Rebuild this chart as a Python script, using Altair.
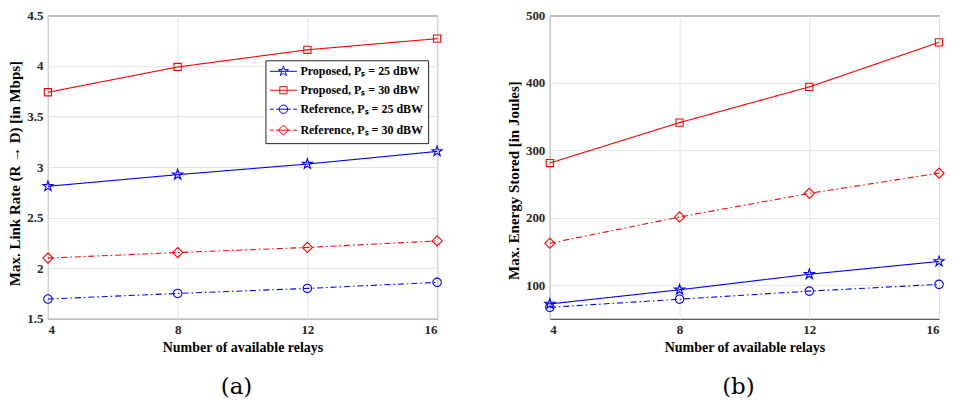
import json
import math
import altair as alt
import pandas as pd

# ---------------- data ----------------
relays = [4, 8, 12, 16]
series = [
    "Proposed, Pₛ = 25 dBW",
    "Proposed, Pₛ = 30 dBW",
    "Reference, Pₛ = 25 dBW",
    "Reference, Pₛ = 30 dBW",
]
colors = ["#0000ff", "#ff0000", "#0000ff", "#ff0000"]

rate_prop25 = [2.81, 2.925, 3.03, 3.155]
rate_prop30 = [3.74, 3.99, 4.16, 4.27]
rate_ref25 = [1.695, 1.75, 1.80, 1.86]
rate_ref30 = [2.10, 2.155, 2.205, 2.27]

energy_prop25 = [72, 93, 116, 135]
energy_prop30 = [281, 341, 394, 460]
energy_ref25 = [67, 79, 91, 101]
energy_ref30 = [162, 201, 236, 266]

rate_ticks = [1.5, 2, 2.5, 3, 3.5, 4, 4.5]
energy_ticks = [100, 200, 300, 400, 500]


def long_frame(values_by_series):
    rows = []
    for name, vals in zip(series, values_by_series):
        for r, v in zip(relays, vals):
            rows.append({"relays": r, "value": v, "series": name,
                         "dash_key": name, "mark_key": name})
    return pd.DataFrame(rows)


rate_df = long_frame([rate_prop25, rate_prop30, rate_ref25, rate_ref30])
energy_df = long_frame([energy_prop25, energy_prop30, energy_ref25, energy_ref30])

# ---------------- marker shapes (unit radius paths) ----------------
def f(v):
    return f"{v:.3f}"


def star_path(R=1.25, ratio=0.382):
    pts = []
    for i in range(10):
        ang = math.radians(-90 + 36 * i)
        rad = R if i % 2 == 0 else R * ratio
        pts.append((rad * math.cos(ang), rad * math.sin(ang)))
    return "M" + "L".join(f"{f(x)},{f(y)}" for x, y in pts) + "Z"


square_path = "M-0.85,-0.85H0.85V0.85H-0.85Z"
circle_path = "M1,0A1,1,0,1,1,-1,0A1,1,0,1,1,1,0Z"
diamond_path = "M0,-1.2L1.2,0L0,1.2L-1.2,0Z"
marker_paths = [star_path(), square_path, circle_path, diamond_path]

solid_seg = "M-3.2,0H3.2"
dashdot_seg = "M-3.2,0H-2.3M-1.7,0H1.7M2.3,0H3.2"
legend_paths = [
    solid_seg + marker_paths[0],
    solid_seg + marker_paths[1],
    dashdot_seg + marker_paths[2],
    dashdot_seg + marker_paths[3],
]
shape_expr = (
    f"{json.dumps(legend_paths, ensure_ascii=False)}"
    f"[indexof({json.dumps(series, ensure_ascii=False)}, datum.value)]"
)

dash_range = [[1, 0], [1, 0], [6, 3, 1.5, 3], [6, 3, 1.5, 3]]

PW, PH = 390, 304


def panel(df, ydomain, yticks, yfmt, ytitle, title_shift, leg_x, leg_y, caption):
    x = alt.X(
        "relays:Q",
        scale=alt.Scale(domain=[4, 16], nice=False, zero=False),
        axis=alt.Axis(values=relays, format="d", title="Number of available relays",
                      labelAngle=0),
    )
    y = alt.Y(
        "value:Q",
        scale=alt.Scale(domain=ydomain, nice=False, zero=False),
        axis=alt.Axis(values=yticks, format=yfmt, title=ytitle, titleFontSize=15,
                      titleY=PH / 2 + title_shift),
    )
    color_scale = alt.Scale(domain=series, range=colors)
    line = alt.Chart(df).mark_line(strokeWidth=1.1).encode(
        x=x,
        y=y,
        color=alt.Color(
            "series:N",
            scale=color_scale,
            legend=alt.Legend(
                title=None,
                orient="none",
                legendX=leg_x,
                legendY=leg_y,
                symbolSize=72,
                symbolType={"expr": shape_expr},
                symbolFillColor="transparent",
                symbolStrokeWidth=1,
                symbolOffset=7,
                labelOffset=11,
                padding=5,
                rowPadding=6,
                fillColor="white",
                strokeColor="#262626",
                labelLimit=0,
            ),
        ),
        strokeDash=alt.StrokeDash(
            "dash_key:N", scale=alt.Scale(range=dash_range), legend=None
        ),
    )
    pts = alt.Chart(df).mark_point(filled=False, strokeWidth=1.1, size=72, opacity=1).encode(
        x=x,
        y=y,
        color=alt.Color("series:N", scale=color_scale, legend=None),
        shape=alt.Shape(
            "mark_key:N", scale=alt.Scale(range=marker_paths), legend=None
        ),
    )
    return alt.layer(line, pts).properties(
        width=PW,
        height=PH,
        title=alt.TitleParams(caption, orient="bottom", frame="group", dx=-6, offset=21),
    )


left = panel(rate_df, [1.5, 4.5], rate_ticks, "~g",
             "Max. Link Rate (R\u00a0→ D) [in Mbps]", 6, 218, 45, "(a)")
right = panel(energy_df, [50, 500], energy_ticks, "d",
              "Max. Energy Stored [in Joules]", 13, 8, 1, "(b)")

chart = (
    alt.hconcat(left, right, spacing=61)
    .properties(padding={"left": -1, "top": 0, "right": 0, "bottom": 0})
    .configure_axis(
        labelFont="Liberation Serif",
        labelFontWeight="bold",
        labelFontSize=13,
        labelColor="#262626",
        titleFont="Liberation Serif",
        titleFontWeight="bold",
        titleFontSize=14,
        titleColor="black",
        gridColor="#e3e3e3",
        gridWidth=1,
        domain=False,
        ticks=False,
        labelPadding=5,
        titlePadding=4,
    )
    .configure_legend(
        labelFont="Liberation Serif",
        labelFontWeight="bold",
        labelFontSize=12,
        labelColor="black",
    )
    .configure_title(font="DejaVu Serif", fontSize=23, fontWeight="normal", color="black")
    .configure_view(stroke="#262626", strokeWidth=1)
)

chart.save("out.html", embed_options={"renderer": "svg", "actions": False})
